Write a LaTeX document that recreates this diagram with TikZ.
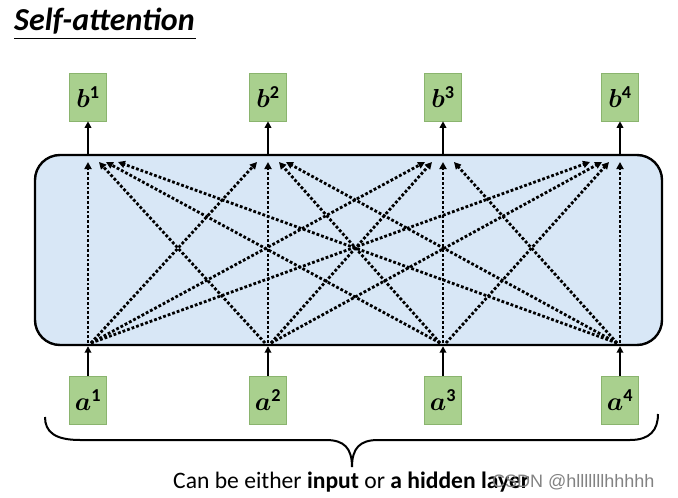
\RequirePackage{fix-cm}
\documentclass[tikz,border=0pt]{standalone}
\usepackage{fontspec}
\setmainfont{Carlito}
\newfontfamily\wmfont{Liberation Sans}
\usepackage{amsmath,bm}
\usetikzlibrary{arrows.meta}
\definecolor{boxgreen}{RGB}{169,208,142}
\definecolor{boxedge}{RGB}{138,180,110}
\definecolor{panelblue}{RGB}{216,231,246}
\definecolor{wmgray}{RGB}{130,130,130}
\begin{document}
\begin{tikzpicture}[x=1pt,y=-1pt,
  lbl/.style={draw=boxedge, line width=0.6pt, fill=boxgreen, minimum width=37pt,
    minimum height=48pt, inner sep=0pt, font=\fontsize{26}{30}\selectfont},
  solidarr/.style={line width=2.4pt, -{Triangle[length=6.5pt,width=6.5pt]}},
  dotarr/.style={line width=2.8pt, dash pattern=on 2.8pt off 2pt,
    -{Triangle[length=7pt,width=7pt]}},
  bracestyle/.style={line width=2pt}
]
\useasboundingbox (0,0) rectangle (678,498);
% title
\node[anchor=base west, inner sep=0pt, font=\fontsize{32}{36}\selectfont\bfseries\itshape] (title) at (14,30) {Self-attention};
\coordinate (ul1) at (14,38);
\coordinate (ul2) at (196,38);
\draw[line width=1pt] (ul1) -- (ul2);
% panel
\node[draw, line width=2.4pt, fill=panelblue, rounded corners=25pt,
  minimum width=627pt, minimum height=190pt, inner sep=0pt] (panel) at (348.5,250) {};
% boxes
\def\xa{88}\def\xb{268}\def\xc{443}\def\xd{620}
\foreach \k/\xx in {1/\xa,2/\xb,3/\xc,4/\xd}{
  \node[lbl] (b\k) at (\xx,97) {$\bm{b}^{\mathbf{\k}}$};
  \node[lbl] (a\k) at (\xx,400) {$\bm{a}^{\mathbf{\k}}$};
  \draw[solidarr] (b\k.south |- panel.north) -- (b\k.south);
  \draw[solidarr] (a\k.north) -- (a\k.north |- panel.south);
}
% dotted attention arrows
\foreach \i/\xi in {1/\xa,2/\xb,3/\xc,4/\xd}{
  \foreach \j/\xj in {1/\xa,2/\xb,3/\xc,4/\xd}{
    \pgfmathtruncatemacro{\d}{abs(\i-\j)}
    \pgfmathsetmacro{\sg}{(\i>\j)-(\i<\j)}
    \pgfmathsetmacro{\off}{{0,11,18,30}[\d]}
    \pgfmathsetmacro{\tx}{\xj+\sg*\off}
    \pgfmathsetmacro{\sx}{\xi-\sg*3}
    \coordinate (s\i\j) at (\sx,343);
    \coordinate (t\i\j) at (\tx,162);
    \draw[dotarr] (s\i\j) -- (t\i\j);
  }
}
% brace
\coordinate (brL) at (45,417);
\coordinate (brR) at (658,414);
\coordinate (brT) at (352,467);
\draw[bracestyle] (brL) .. controls (45,432) and (55,440) .. (80,440) -- (326,440)
  .. controls (344,440) and (352,448) .. (brT)
  .. controls (352,448) and (360,440) .. (378,440) -- (630,440)
  .. controls (650,440) and (658,430) .. (brR);
% caption
\node[anchor=base west, inner sep=0pt, font=\fontsize{23.6}{28}\selectfont] (cap) at (173,488)
  {Can be either \textbf{input} or \textbf{a hidden layer}};
\node[anchor=base west, inner sep=0pt, text=wmgray, font=\wmfont\fontsize{18}{22}\selectfont] (wm) at (492,487)
  {CSDN @hlllllllhhhhh};
\end{tikzpicture}
\end{document}
